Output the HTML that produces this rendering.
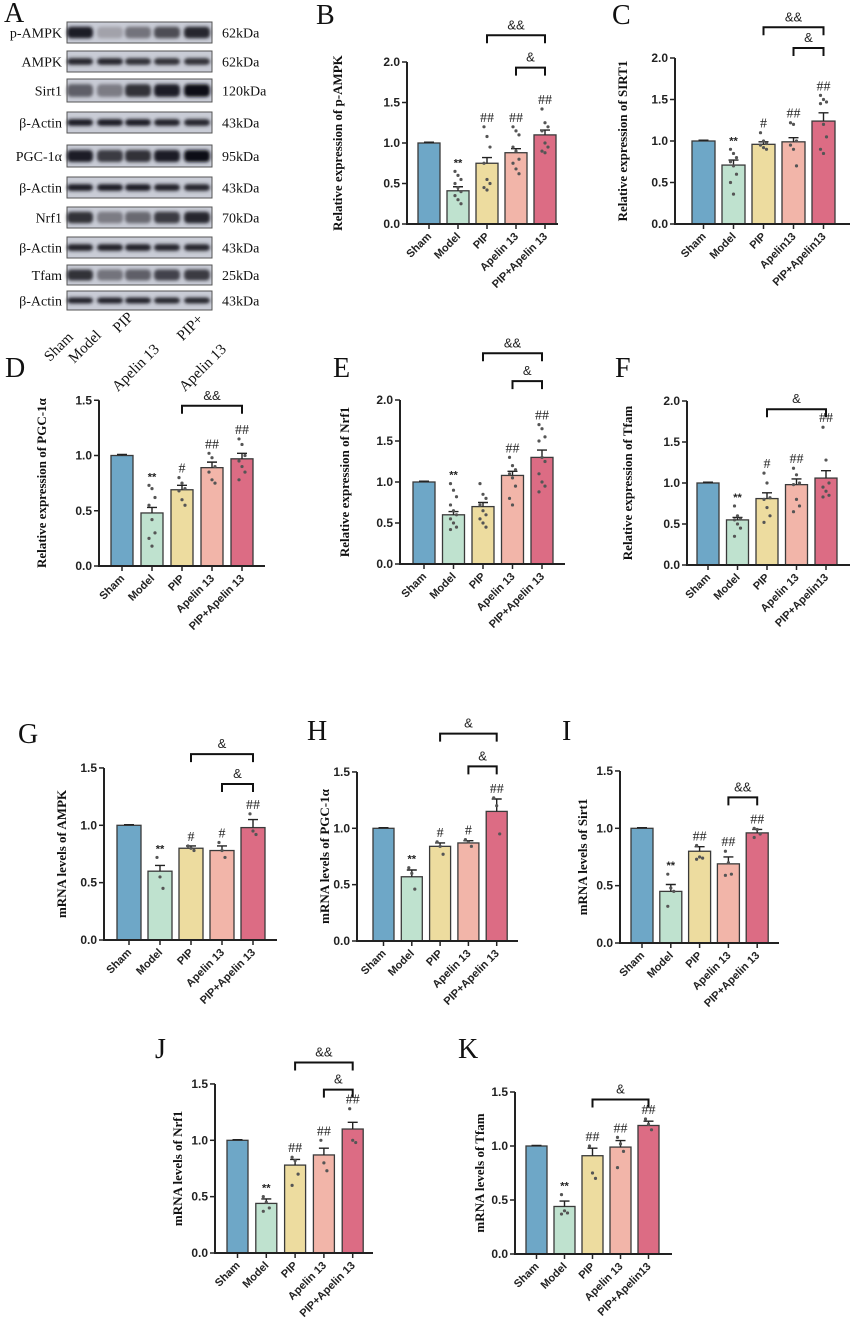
<!DOCTYPE html>
<html><head><meta charset="utf-8"><style>
html,body{margin:0;padding:0;background:#fff;}
svg{display:block;}
.tk{font-family:"Liberation Sans",sans-serif;font-weight:bold;font-size:12px;fill:#222;}
.xl{font-family:"Liberation Sans",sans-serif;font-weight:bold;font-size:11px;fill:#222;}
.tt{font-family:"Liberation Serif",serif;font-weight:bold;font-size:13px;fill:#111;}
.pl{font-family:"Liberation Serif",serif;font-size:28px;fill:#111;}
.bl{font-family:"Liberation Serif",serif;font-size:14px;fill:#111;}
.sg{font-family:"Liberation Serif",serif;font-size:14px;fill:#222;}
.an{font-family:"Liberation Sans",sans-serif;font-size:13px;fill:#222;}
</style></head><body>
<svg id="fig" width="858" height="1334" viewBox="0 0 858 1334" xmlns="http://www.w3.org/2000/svg">
<defs><filter id="blur" x="-20%" y="-50%" width="140%" height="200%"><feGaussianBlur stdDeviation="1.6"/></filter></defs>
</svg>
<script>
const NS='http://www.w3.org/2000/svg';
const svg=document.getElementById('fig');
function mk(tag,attrs,parent,text){const e=document.createElementNS(NS,tag);for(const k in attrs)e.setAttribute(k,attrs[k]);if(text!==undefined)e.textContent=text;(parent||svg).appendChild(e);return e;}

/* ---------- Panel A: western blots ---------- */
const blotLabels=['p-AMPK','AMPK','Sirt1','β-Actin','PGC-1α','β-Actin','Nrf1','β-Actin','Tfam','β-Actin'];
const blotKDa=['62kDa','62kDa','120kDa','43kDa','95kDa','43kDa','70kDa','43kDa','25kDa','43kDa'];
const blotIntensity=[[0.9,0.2,0.45,0.65,0.85],[0.85,0.85,0.8,0.8,0.8],[0.55,0.4,0.8,0.9,1],[0.9,0.9,0.9,0.88,0.86],[0.9,0.75,0.8,0.9,1],[0.9,0.9,0.9,0.88,0.86],[0.8,0.4,0.5,0.75,0.85],[0.88,0.88,0.88,0.86,0.85],[0.8,0.45,0.55,0.7,0.75],[0.88,0.88,0.88,0.86,0.85]];
const blotRows=[[22,43],[51,72],[79,102],[112,133],[145,167],[177,198],[207,228],[237,258],[265,285],[291,310]];
const laneX=[80,110,138,167,197];
mk('text',{x:4,y:22,class:'pl',},svg,'A');
const gA=mk('g',{});
blotLabels.forEach((lab,r)=>{
  const [t,b]=blotRows[r];const g=mk('g',{},gA);
  
  
  mk('rect',{x:67,y:t,width:145,height:b-t,fill:'#c9ccd6',stroke:'#555','stroke-width':1},g);
  blotIntensity[r].forEach((v,i)=>{
    const h=(b-t)*(lab==='β-Actin'||lab==='AMPK'?0.32:0.55);
    const shade=Math.round(200-190*v);
    mk('rect',{x:laneX[i]-13,y:(t+b)/2-h/2,width:26,height:h,rx:4,fill:`rgb(${shade},${shade},${shade+8})`,filter:'url(#blur)'},g);
  });
  const l=mk('text',{x:62,y:(t+b)/2+5,'text-anchor':'end',class:'bl'},g,lab);
  
  
  const k=mk('text',{x:222,y:(t+b)/2+5,class:'bl'},g,blotKDa[r]);
  
  
});
const laneLabels=[['Sham',74,338],['Model',102,336],['PIP',134,318],['Apelin 13',160,350],['PIP+',204,320],['Apelin 13',227,350]];
laneLabels.forEach(([s,x,y])=>{
  const t=mk('text',{x:x,y:y,'text-anchor':'end',transform:`rotate(-45 ${x} ${y})`,class:'bl',style:'font-size:15px'},svg,s);
  
  
});

/* ---------- Bar chart data ---------- */
const colors=['#6ea7c7','#bfe2cf','#eddc9f','#f2b5a9','#dc6c84'];
const catsA=['Sham','Model','PIP','Apelin 13','PIP+Apelin 13'];
const catsC=['Sham','Model','PIP','Apelin13','PIP+Apelin13'];
const catsF=['Sham','Model','PIP','Apelin 13','PIP+Apelin13'];

const meanB=[1.0,0.41,0.75,0.88,1.10], semB=[0.01,0.05,0.07,0.05,0.06];
const meanC=[1.0,0.71,0.96,0.99,1.24], semC=[0.01,0.06,0.03,0.05,0.10];
const meanD=[1.0,0.48,0.69,0.89,0.97], semD=[0.01,0.05,0.04,0.05,0.05];
const meanE=[1.0,0.60,0.70,1.08,1.30], semE=[0.01,0.04,0.05,0.05,0.09];
const meanF=[1.0,0.55,0.81,0.98,1.06], semF=[0.01,0.03,0.07,0.07,0.09];
const meanG=[1.0,0.60,0.80,0.78,0.98], semG=[0.005,0.05,0.02,0.04,0.07];
const meanH=[1.0,0.57,0.84,0.87,1.15], semH=[0.005,0.06,0.03,0.02,0.11];
const meanI=[1.0,0.45,0.80,0.69,0.96], semI=[0.005,0.06,0.04,0.06,0.03];
const meanJ=[1.0,0.44,0.78,0.87,1.10], semJ=[0.005,0.04,0.05,0.06,0.06];
const meanK=[1.0,0.44,0.91,0.99,1.19], semK=[0.005,0.05,0.07,0.06,0.04];

const ptsB=[[1],[0.65,0.6,0.55,0.5,0.45,0.4,0.35,0.3,0.25],[1.2,1.08,0.95,0.75,0.55,0.5,0.45,0.42],[1.2,1.15,1.1,0.95,0.9,0.8,0.75,0.68,0.62],[1.42,1.25,1.2,1.15,1.0,0.95,0.9,0.88]];
const ptsC=[[1],[0.9,0.85,0.8,0.75,0.7,0.6,0.5,0.36],[1.1,1.0,0.97,0.95,0.92,0.9],[1.22,1.2,1.0,0.95,0.9,0.7],[1.55,1.5,1.47,1.45,1.2,1.05,0.9,0.85]];
const ptsD=[[1],[0.73,0.7,0.62,0.55,0.42,0.3,0.25,0.18],[0.8,0.75,0.7,0.68,0.6,0.55],[1.02,0.98,0.9,0.85,0.78,0.75],[1.15,1.1,1.0,0.95,0.9,0.85,0.78]];
const ptsE=[[1],[0.98,0.9,0.82,0.72,0.65,0.6,0.55,0.5,0.45,0.42],[0.98,0.85,0.8,0.72,0.65,0.6,0.55,0.5,0.45],[1.3,1.2,1.15,1.1,1.05,0.95,0.8,0.72],[1.7,1.65,1.55,1.5,1.3,1.25,1.1,1.0,0.95,0.88]];
const ptsF=[[1],[0.72,0.6,0.56,0.55,0.5,0.45,0.35],[1.12,1.0,0.82,0.8,0.7,0.6,0.52],[1.18,1.1,1.0,0.98,0.8,0.72,0.65],[1.68,1.28,1.0,0.95,0.9,0.85,0.83]];
const ptsG=[[1],[0.72,0.55,0.45],[0.82,0.8,0.78],[0.85,0.78,0.72],[1.1,0.95,0.92]];
const ptsH=[[1],[0.65,0.6,0.46],[0.88,0.84,0.77],[0.9,0.88,0.84],[1.27,1.2,0.95]];
const ptsI=[[1],[0.6,0.48,0.45,0.32],[0.85,0.75,0.74,0.73],[0.8,0.7,0.6,0.59],[1.0,0.99,0.95,0.92]];
const ptsJ=[[1],[0.5,0.45,0.4,0.37],[0.85,0.82,0.7,0.6],[1.0,0.8,0.73],[1.28,1.0,0.98]];
const ptsK=[[1],[0.55,0.4,0.38,0.37],[1.0,0.75,0.7],[1.08,1.02,0.95,0.8],[1.25,1.2,1.15]];

const sigB=['','**','##','##','##'], sigC=['','**','#','##','##'], sigD=['','**','#','##','##'];
const sigE=['','**','','##','##'], sigF=['','**','#','##','##'], sigG=['','**','#','#','##'];
const sigH=['','**','#','#','##'], sigI=['','**','##','##','##'], sigJ=['','**','##','##','##'], sigK=['','**','##','##','##'];

/* brackets: [fromIndex,toIndex,value-level,label] */
const brB=[[2,4,2.33,'&&'],[3,4,1.93,'&']], brC=[[2,4,2.37,'&&'],[3,4,2.12,'&']], brD=[[2,4,1.45,'&&']];
const brE=[[2,4,2.57,'&&'],[3,4,2.23,'&']], brF=[[2,4,1.90,'&']], brG=[[2,4,1.62,'&'],[3,4,1.36,'&']];
const brH=[[2,4,1.84,'&'],[3,4,1.55,'&']], brI=[[3,4,1.27,'&&']], brJ=[[2,4,1.69,'&&'],[3,4,1.45,'&']], brK=[[2,4,1.43,'&']];

const panels=[
 {id:'b',L:'B',lx:316,ly:24,title:'Relative expression of p-AMPK',tx:338,ax:407,y0:224,ppu:81,ymax:2,b0:418,sp:29,w:22,end:558,cats:catsA,mean:meanB,sem:semB,pts:ptsB,sig:sigB,br:brB},
 {id:'c',L:'C',lx:612,ly:24,title:'Relative expression of SIRT1',tx:623,ax:675,y0:224,ppu:83,ymax:2,b0:692,sp:30,w:23,end:850,cats:catsC,mean:meanC,sem:semC,pts:ptsC,sig:sigC,br:brC},
 {id:'d',L:'D',lx:5,ly:377,title:'Relative expression of PGC-1α',tx:42,ax:99,y0:566,ppu:110.5,ymax:1.5,b0:111,sp:30,w:22,end:265,cats:catsA,mean:meanD,sem:semD,pts:ptsD,sig:sigD,br:brD},
 {id:'e',L:'E',lx:333,ly:377,title:'Relative expression of Nrf1',tx:345,ax:400,y0:564,ppu:82,ymax:2,b0:413,sp:29.5,w:22,end:565,cats:catsA,mean:meanE,sem:semE,pts:ptsE,sig:sigE,br:brE},
 {id:'f',L:'F',lx:615,ly:377,title:'Relative expression of Tfam',tx:628,ax:687,y0:565,ppu:82,ymax:2,b0:697,sp:29.5,w:22,end:850,cats:catsF,mean:meanF,sem:semF,pts:ptsF,sig:sigF,br:brF},
 {id:'g',L:'G',lx:18,ly:743,title:'mRNA levels of AMPK',tx:62,ax:104,y0:940,ppu:114.7,ymax:1.5,b0:117,sp:31,w:24,end:277,cats:catsA,mean:meanG,sem:semG,pts:ptsG,sig:sigG,br:brG},
 {id:'h',L:'H',lx:307,ly:740,title:'mRNA levels of PGC-1α',tx:325,ax:357,y0:941,ppu:112.7,ymax:1.5,b0:373,sp:28.3,w:21,end:518,cats:catsA,mean:meanH,sem:semH,pts:ptsH,sig:sigH,br:brH},
 {id:'i',L:'I',lx:562,ly:740,title:'mRNA levels of Sirt1',tx:583,ax:620,y0:943,ppu:114.7,ymax:1.5,b0:631,sp:28.8,w:22,end:779,cats:catsA,mean:meanI,sem:semI,pts:ptsI,sig:sigI,br:brI},
 {id:'j',L:'J',lx:155,ly:1058,title:'mRNA levels of Nrf1',tx:178,ax:215,y0:1253,ppu:112.7,ymax:1.5,b0:227,sp:28.8,w:21,end:373,cats:catsA,mean:meanJ,sem:semJ,pts:ptsJ,sig:sigJ,br:brJ},
 {id:'k',L:'K',lx:458,ly:1058,title:'mRNA levels of Tfam',tx:480,ax:515,y0:1254,ppu:108,ymax:1.5,b0:526,sp:28,w:21,end:672,cats:catsF,mean:meanK,sem:semK,pts:ptsK,sig:sigK,br:brK}
];

panels.forEach(p=>{
  const g=mk('g',{});
  
  
  const Y=v=>p.y0-v*p.ppu;
  const CX=i=>p.b0+i*p.sp+p.w/2;
  const lt=mk('text',{x:p.lx,y:p.ly,class:'pl'},g,p.L);
  
  
  const yTop=Y(p.ymax);
  const tt=mk('text',{x:p.tx,y:(p.y0+yTop)/2,'text-anchor':'middle',transform:`rotate(-90 ${p.tx} ${(p.y0+yTop)/2})`,class:'tt',dy:'4'},g,p.title);
  
  
  // bars
  p.mean.forEach((m,i)=>{
    const r=mk('rect',{x:p.b0+i*p.sp,y:Y(m),width:p.w,height:m*p.ppu,fill:colors[i],stroke:'#3a3a3a','stroke-width':1.3},g);
    
    
    // error bar
    const cx=CX(i), top=Y(m+p.sem[i]);
    const e=mk('path',{d:`M${cx} ${Y(m)}V${top}M${cx-5} ${top}H${cx+5}`,stroke:'#222','stroke-width':1.4,fill:'none'},g);
    
    
    // points
    p.pts[i].forEach((v,k)=>{
      if(i===0)return;
      const off=((k%3)-1)*3;
      const c=mk('circle',{cx:cx+off,cy:Y(v),r:1.6,fill:'#555'},g);
      
      
    });
    // significance
    if(p.sig[i]){
      const hi=Math.max(m+p.sem[i],...p.pts[i]);
      const s=mk('text',{x:cx,y:Y(hi)-5,'text-anchor':'middle',class:'sg',style:p.sig[i]==='**'?'font-family:Liberation Sans,sans-serif;font-weight:bold;font-size:11px':''},g,p.sig[i]);
      
      
    }
    // x tick + label
    mk('line',{x1:cx,y1:p.y0,x2:cx,y2:p.y0+5,stroke:'#222','stroke-width':1.5},g);
    const xl=mk('text',{x:cx+3,y:p.y0+13,'text-anchor':'end',transform:`rotate(-45 ${cx+3} ${p.y0+13})`,class:'xl'},g,p.cats[i]);
    
    
  });
  // axes
  const ya=mk('line',{x1:p.ax,y1:p.y0,x2:p.ax,y2:yTop,stroke:'#222','stroke-width':2},g);
  
  
  const xa=mk('line',{x1:p.ax-1,y1:p.y0,x2:p.end,y2:p.y0,stroke:'#222','stroke-width':2},g);
  
  
  for(let v=0;v<=p.ymax+1e-9;v+=0.5){
    mk('line',{x1:p.ax-5,y1:Y(v),x2:p.ax,y2:Y(v),stroke:'#222','stroke-width':1.5},g);
    const t=mk('text',{x:p.ax-7,y:Y(v)+4,'text-anchor':'end',class:'tk'},g,v.toFixed(1));
    
    
  }
  // brackets
  p.br.forEach(([a,b,lv,lab])=>{
    const y=Y(lv), x1=CX(a), x2=CX(b);
    const pth=mk('path',{d:`M${x1} ${y+8}V${y}H${x2}V${y+8}`,stroke:'#111','stroke-width':2,fill:'none'},g);
    
    
    const t=mk('text',{x:(x1+x2)/2,y:y-6,'text-anchor':'middle',class:'an'},g,lab);
    
    
  });
});
</script>
</body></html>
